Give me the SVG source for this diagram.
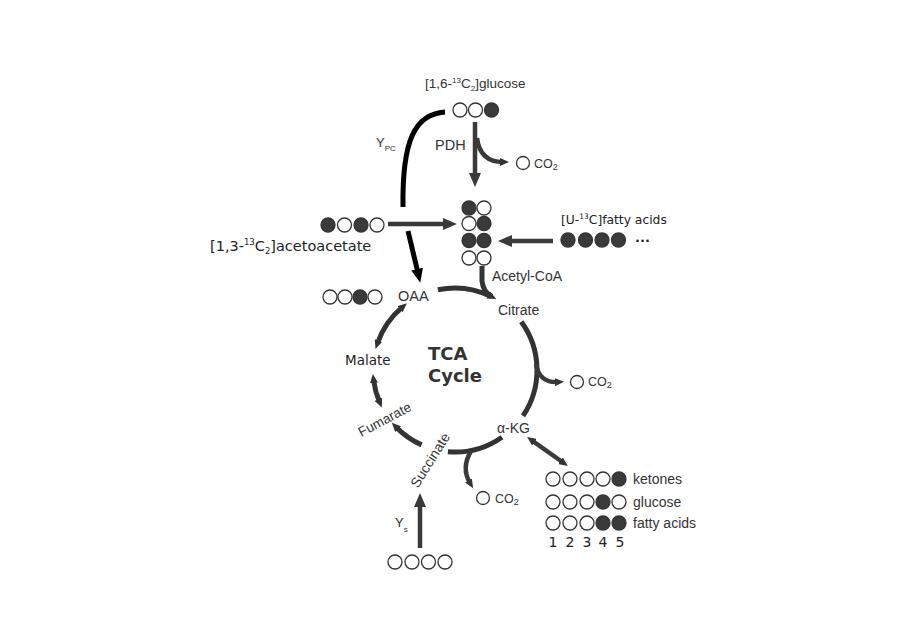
<svg xmlns="http://www.w3.org/2000/svg" width="900" height="630" viewBox="0 0 900 630">
<style>
.t{font-family:"Liberation Sans",Arial,sans-serif;fill:#333;font-size:14px}
.v{font-family:"DejaVu Sans",Verdana,sans-serif;fill:#222;font-size:13px}
.o{fill:#fff;stroke:#333;stroke-width:1.3}
.f{fill:#3a3a3a;stroke:#333;stroke-width:1.3}
.a{fill:none;stroke:#333;stroke-width:5}
.b{fill:none;stroke:#3a3a3a;stroke-width:4.5}
.k{fill:none;stroke:#000;stroke-width:5}
</style>
<defs>
<marker id="sm" viewBox="0 0 9 8" markerWidth="9" markerHeight="8" markerUnits="userSpaceOnUse" refX="3" refY="4" orient="auto-start-reverse"><path d="M0,0L9,4L0,8z" fill="#333"/></marker>
<marker id="big" viewBox="0 0 14 12" markerWidth="14" markerHeight="12" markerUnits="userSpaceOnUse" refX="4" refY="6" orient="auto"><path d="M0,0L14,6L0,12z" fill="#3a3a3a"/></marker>
<marker id="bk" viewBox="0 0 14 12" markerWidth="14" markerHeight="12" markerUnits="userSpaceOnUse" refX="4" refY="6" orient="auto"><path d="M0,0L14,6L0,12z" fill="#000"/></marker>
</defs>
<rect width="900" height="630" fill="#fff"/>
<g id="connectors">
<path class="k" d="M445,112 C415,114 402,140 403,207"/>
<path class="k" d="M408,231 L418,273" marker-end="url(#bk)"/>
<path class="b" d="M475,122 L475,177" marker-end="url(#big)"/>
<path class="b" d="M477,138 Q480,162 503,162" marker-end="url(#sm)"/>
<path class="b" d="M388,224 L447,224" marker-end="url(#big)"/>
<path class="b" d="M553,241 L508,241" marker-end="url(#big)"/>
<path class="b" d="M420,548 L420,503" marker-end="url(#big)"/>
<path class="a" d="M437.9,289.8 A82,82 0 0 1 490.9,296.3" marker-end="url(#sm)"/>
<path class="a" d="M482,266 L482,281 Q483,292 492,296.5"/>
<path class="a" d="M521.3,321.8 A82,82 0 0 1 523,415.9"/>
<path class="b" d="M536,364 Q539,383 558,382" marker-end="url(#sm)"/>
<path class="a" d="M502,437.2 A82,82 0 0 1 447.9,451.7"/>
<path class="b" d="M471,451 Q461,468 470,483" marker-end="url(#sm)"/>
<path class="a" d="M421.6,444.9 A82,82 0 0 1 396,427" marker-end="url(#sm)"/>
<path class="a" d="M379.5,402 A82,82 0 0 1 373.6,380" marker-start="url(#sm)" marker-end="url(#sm)"/>
<path class="a" d="M377.5,343.3 A82,82 0 0 1 402.3,307.2" marker-start="url(#sm)" marker-end="url(#sm)"/>
<path class="b" d="M532,440.5 L563,462.5" marker-start="url(#sm)" marker-end="url(#sm)"/>
</g>
<g id="glucose">
<text class="t" x="425" y="88" style="font-size:13.5px">[1,6-<tspan style="font-size:8px" dy="-5">13</tspan><tspan dy="5">C</tspan><tspan style="font-size:8px" dy="3">2</tspan><tspan dy="-3">]glucose</tspan></text>
<circle class="o" cx="460" cy="110" r="7"/><circle class="o" cx="475.5" cy="110" r="7"/><circle class="f" cx="491.5" cy="110" r="7"/>
</g>
<g id="ypc"><text class="t" x="376" y="147" style="font-size:13px">Y<tspan style="font-size:8px" dy="4">PC</tspan></text></g>
<g id="pdh"><text class="t" x="435" y="150" style="font-size:14.5px">PDH</text></g>
<g id="co2-pdh"><circle class="o" cx="523" cy="163" r="6.5"/><text class="t" x="534" y="168" style="font-size:12.5px">CO<tspan style="font-size:9px" dy="2">2</tspan></text></g>
<g id="acetoacetate">
<circle class="f" cx="328" cy="225" r="7"/><circle class="o" cx="344.5" cy="225" r="7"/><circle class="f" cx="361" cy="225" r="7"/><circle class="o" cx="377" cy="225" r="7"/>
<text class="v" x="210" y="251" style="font-size:14.5px">[1,3-<tspan style="font-size:8.5px" dy="-6">13</tspan><tspan dy="6">C</tspan><tspan style="font-size:8.5px" dy="3">2</tspan><tspan dy="-3">]acetoacetate</tspan></text>
</g>
<g id="fattyacids">
<text class="v" x="561" y="224" style="font-size:12.3px">[U-<tspan style="font-size:7.5px" dy="-5">13</tspan><tspan dy="5">C]fatty acids</tspan></text>
<circle class="f" cx="568" cy="240" r="7"/><circle class="f" cx="585.5" cy="240" r="7"/><circle class="f" cx="602" cy="240" r="7"/><circle class="f" cx="618.5" cy="240" r="7"/>
<text class="v" x="635" y="242" font-weight="bold">...</text>
</g>
<g id="acetylcoa">
<circle class="f" cx="469" cy="208" r="7"/><circle class="o" cx="484" cy="208" r="7"/>
<circle class="o" cx="469" cy="223.5" r="7"/><circle class="f" cx="484" cy="223.5" r="7"/>
<circle class="f" cx="469" cy="240.5" r="7"/><circle class="f" cx="484" cy="240.5" r="7"/>
<circle class="o" cx="469" cy="258" r="7"/><circle class="o" cx="484" cy="258" r="7"/>
<text class="t" x="492" y="281">Acetyl-CoA</text>
</g>
<g id="oaa">
<circle class="o" cx="330" cy="297" r="7"/><circle class="o" cx="345" cy="297" r="7"/><circle class="f" cx="360" cy="297" r="7"/><circle class="o" cx="375" cy="297" r="7"/>
<text class="t" x="398" y="301" style="font-size:14.5px">OAA</text>
</g>
<g id="citrate"><text class="t" x="498" y="315">Citrate</text></g>
<g id="malate"><text class="v" x="345" y="365" style="font-size:13.5px">Malate</text></g>
<g id="tca"><text class="v" x="428" y="360" style="font-size:18px;font-weight:bold;fill:#333">TCA</text><text class="v" x="428" y="382" style="font-size:18px;font-weight:bold;fill:#333">Cycle</text></g>
<g id="fumarate"><text class="t" x="385" y="424" text-anchor="middle" style="font-size:13.5px" transform="rotate(-28 385 420)">Fumarate</text></g>
<g id="succinate"><text class="t" x="430" y="465" text-anchor="middle" style="font-size:14px" transform="rotate(-58 430 460)">Succinate</text></g>
<g id="akg"><text class="t" x="497" y="433">α-KG</text></g>
<g id="co2-right"><circle class="o" cx="577" cy="382" r="6.5"/><text class="t" x="588" y="386" style="font-size:12.5px">CO<tspan style="font-size:9px" dy="2">2</tspan></text></g>
<g id="co2-bottom"><circle class="o" cx="483" cy="498" r="6.5"/><text class="t" x="495" y="503" style="font-size:12.5px">CO<tspan style="font-size:9px" dy="2">2</tspan></text></g>
<g id="labeling">
<circle class="o" cx="553" cy="479" r="7"/><circle class="o" cx="570" cy="479" r="7"/><circle class="o" cx="587" cy="479" r="7"/><circle class="o" cx="603" cy="479" r="7"/><circle class="f" cx="619" cy="479" r="7"/>
<circle class="o" cx="553" cy="502" r="7"/><circle class="o" cx="570" cy="502" r="7"/><circle class="o" cx="587" cy="502" r="7"/><circle class="f" cx="603" cy="502" r="7"/><circle class="o" cx="619" cy="502" r="7"/>
<circle class="o" cx="553" cy="523" r="7"/><circle class="o" cx="570" cy="523" r="7"/><circle class="o" cx="587" cy="523" r="7"/><circle class="f" cx="603" cy="523" r="7"/><circle class="f" cx="619" cy="523" r="7"/>
<text class="t" x="633" y="484">ketones</text>
<text class="t" x="633" y="507">glucose</text>
<text class="t" x="633" y="528">fatty acids</text>
<text class="v" y="547" text-anchor="middle" style="font-size:14px"><tspan x="553">1</tspan><tspan x="570">2</tspan><tspan x="587">3</tspan><tspan x="603">4</tspan><tspan x="620">5</tspan></text>
</g>
<g id="ys"><text class="t" x="395" y="527" style="font-size:13px">Y<tspan style="font-size:8px" dy="5">s</tspan></text></g>
<g id="succinate-source">
<circle class="o" cx="395" cy="562" r="7"/><circle class="o" cx="412" cy="562" r="7"/><circle class="o" cx="428.5" cy="562" r="7"/><circle class="o" cx="445" cy="562" r="7"/>
</g>
</svg>
